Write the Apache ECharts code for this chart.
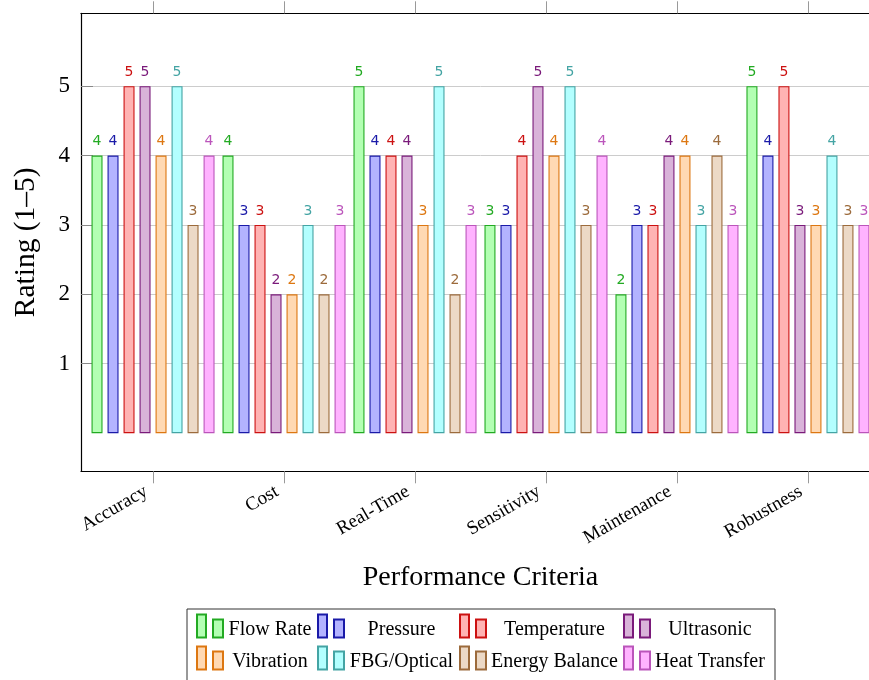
<!DOCTYPE html>
<html><head><meta charset="utf-8">
<script src="https://cdn.jsdelivr.net/npm/echarts@6/dist/echarts.min.js"></script>
<style>html,body{margin:0;padding:0;background:#fff;overflow:hidden}#c{width:900px;height:680px}</style>
</head><body><div id="c"></div>
<script>
const categories = ['Accuracy', 'Cost', 'Real-Time', 'Sensitivity', 'Maintenance', 'Robustness'];
const seriesNames = ['Flow Rate', 'Pressure', 'Temperature', 'Ultrasonic', 'Vibration', 'FBG/Optical', 'Energy Balance', 'Heat Transfer'];
const flowRate      = [4, 4, 5, 3, 2, 5];
const pressure      = [4, 3, 4, 3, 3, 4];
const temperature   = [5, 3, 4, 4, 3, 5];
const ultrasonic    = [5, 2, 4, 5, 4, 3];
const vibration     = [4, 2, 3, 4, 4, 3];
const fbgOptical    = [5, 3, 5, 5, 3, 4];
const energyBalance = [3, 2, 2, 3, 4, 3];
const heatTransfer  = [4, 3, 3, 4, 3, 3];
const yTicks = [1, 2, 3, 4, 5];
const catTicks = [0, 1, 2, 3, 4, 5];

const seriesValues = [flowRate, pressure, temperature, ultrasonic, vibration, fbgOptical, energyBalance, heatTransfer];
const fills   = ['#b3ffb3', '#b3b3ff', '#ffb3b3', '#d9b3d9', '#ffd9b3', '#b3ffff', '#ecd9c6', '#ffb3ff'];
const borders = ['#22aa22', '#1a1aa8', '#cc1111', '#7a1a7a', '#dd7711', '#44a4a4', '#9c6b3c', '#bb55bb'];

const SERIF = 'Liberation Serif';
const chart = echarts.init(document.getElementById('c'), null, {renderer: 'canvas'});

const series = seriesNames.map((name, k) => ({
  name: name,
  type: 'bar',
  xAxisIndex: 0,
  yAxisIndex: 0,
  data: seriesValues[k].map((v, i) => [i, v]),
  barWidth: 11,
  barGap: '45.5%',
  itemStyle: {color: fills[k], borderColor: borders[k], borderWidth: 1.1},
  label: {
    show: true, position: 'top', distance: 7,
    color: borders[k], fontFamily: 'DejaVu Sans', fontSize: 14,
    formatter: p => String(p.value[1])
  },
  emphasis: {disabled: true}
}));

const cellW = [84, 105, 127, 110];
const rich = {};
cellW.forEach((w, i) => {
  rich['c' + i] = {width: w, align: 'center', fontFamily: SERIF, fontSize: 20, color: '#000', lineHeight: 21, padding: [7, 0, 0, 0]};
});

chart.setOption({
  animation: false,
  backgroundColor: '#fff',
  grid: {left: 81, top: 13.3, width: 799, height: 458, containLabel: false},
  legend: {
    left: 187, top: 609, width: 576, orient: 'horizontal',
    padding: [3.5, 10, 14, 9], itemGap: 5, itemWidth: 26, itemHeight: 23,
    borderColor: '#333', borderWidth: 1, selectedMode: false,
    icon: 'path://M0,0h9v23h-9z M16,5h10v18h-10z',
    data: seriesNames,
    formatter: name => '{c' + (seriesNames.indexOf(name) % 4) + '|' + name + '}',
    textStyle: {fontFamily: SERIF, fontSize: 20, color: '#000', rich: rich}
  },
  xAxis: [{
    type: 'value', position: 'bottom', min: -0.55, max: 5.55,
    name: 'Performance Criteria', nameLocation: 'middle', nameGap: 92,
    nameTextStyle: {fontFamily: SERIF, fontSize: 28, color: '#000'},
    axisLine: {show: true, onZero: false, lineStyle: {color: '#000', width: 1.2}},
    axisTick: {show: true, inside: false, length: 12, customValues: catTicks, lineStyle: {color: '#999'}},
    axisLabel: {
      customValues: catTicks, rotate: 30, margin: 15, padding: [0, 8, 0, 0],
      fontFamily: SERIF, fontSize: 19, color: '#000',
      formatter: v => categories[Math.round(v)]
    },
    splitLine: {show: false}
  }, {
    type: 'value', position: 'top', min: -0.55, max: 5.55,
    axisLine: {show: true, onZero: false, lineStyle: {color: '#000', width: 1.2}},
    axisTick: {show: true, inside: false, length: 12, customValues: catTicks, lineStyle: {color: '#999'}},
    axisLabel: {show: false},
    splitLine: {show: false}
  }],
  yAxis: {
    type: 'value', min: -0.55, max: 6.05,
    name: 'Rating (1–5)', nameLocation: 'middle', nameGap: 40,
    nameTextStyle: {fontFamily: SERIF, fontSize: 29.5, color: '#000'},
    axisLine: {show: true, onZero: false, lineStyle: {color: '#000', width: 1.2}},
    axisTick: {show: true, inside: true, length: 12, customValues: yTicks, lineStyle: {color: '#888'}},
    axisLabel: {customValues: yTicks, fontFamily: SERIF, fontSize: 23, color: '#000', margin: 11},
    splitLine: {show: true, lineStyle: {color: '#cccccc', width: 1}}
  },
  series: series
});
</script>
</body></html>
